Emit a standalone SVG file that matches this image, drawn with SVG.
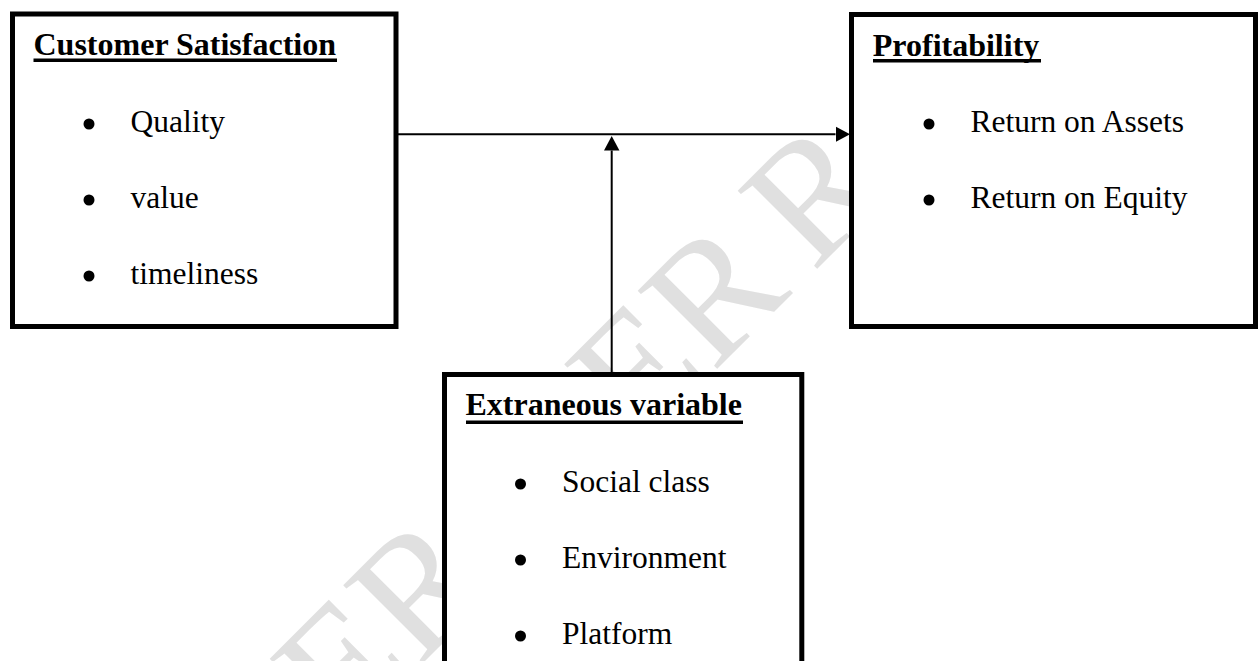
<svg xmlns="http://www.w3.org/2000/svg" width="1258" height="661" viewBox="0 0 1258 661">
<style>
  .box{fill:#ffffff;stroke:#000000;stroke-width:5}
  .title{font-family:"Liberation Serif","Times New Roman",serif;font-weight:bold;font-size:32px;fill:#000}
  .item{font-family:"Liberation Serif","Times New Roman",serif;font-size:31.5px;fill:#000}
  .ul{fill:#000}
  .dot{fill:#000}
  .conn{stroke:#000;stroke-width:2;fill:none}
  .wm{font-family:"Liberation Serif","Times New Roman",serif;font-size:170px;fill:#e0e0e0}
</style>
<defs>
  <marker id="arrow" markerUnits="userSpaceOnUse" markerWidth="15" markerHeight="16" refX="0" refY="7.75" orient="auto" viewBox="0 0 15 15.5">
    <path d="M0,0 L14.5,7.75 L0,15.5 Z" fill="#000"/>
  </marker>
</defs>
<rect x="0" y="0" width="1258" height="661" fill="#ffffff"/>
<g id="watermark">
  <text class="wm" transform="translate(345,741) rotate(-45)">ER</text>
  <text class="wm" transform="translate(639.5,446.5) rotate(-45)">ER</text>
  <text class="wm" transform="translate(813,273) rotate(-45)">R</text>
</g>
<g id="connectors">
  <line class="conn" x1="398" y1="134.3" x2="835.5" y2="134.3" marker-end="url(#arrow)"/>
  <line class="conn" x1="611.7" y1="373" x2="611.7" y2="150.5" marker-end="url(#arrow)"/>
</g>
<g id="customer-satisfaction">
  <rect class="box" x="12.5" y="14" width="383.5" height="312.5"/>
  <text class="title" x="33.5" y="55">Customer Satisfaction</text>
  <rect class="ul" x="33.5" y="58.5" width="303.5" height="3.5"/>
  <circle class="dot" cx="89" cy="124" r="5.5"/>
  <text class="item" x="130.5" y="131.5">Quality</text>
  <circle class="dot" cx="89" cy="200" r="5.5"/>
  <text class="item" x="130.5" y="207.5">value</text>
  <circle class="dot" cx="89" cy="276" r="5.5"/>
  <text class="item" x="130.5" y="283.5">timeliness</text>
</g>
<g id="profitability">
  <rect class="box" x="851.5" y="14.5" width="404" height="312"/>
  <text class="title" x="872.8" y="55.5">Profitability</text>
  <rect class="ul" x="873" y="59" width="168" height="3.5"/>
  <circle class="dot" cx="929" cy="124" r="5.5"/>
  <text class="item" x="970.5" y="131.5">Return on Assets</text>
  <circle class="dot" cx="929" cy="200" r="5.5"/>
  <text class="item" x="970.5" y="207.5">Return on Equity</text>
</g>
<g id="extraneous-variable">
  <rect class="box" x="444.5" y="374.5" width="357.3" height="300"/>
  <text class="title" x="465.5" y="415">Extraneous variable</text>
  <rect class="ul" x="466" y="420.5" width="277" height="3.5"/>
  <circle class="dot" cx="520.5" cy="484" r="5.5"/>
  <text class="item" x="562" y="491.7">Social class</text>
  <circle class="dot" cx="520.5" cy="560" r="5.5"/>
  <text class="item" x="562" y="568">Environment</text>
  <circle class="dot" cx="520.5" cy="636" r="5.5"/>
  <text class="item" x="562" y="643.5">Platform</text>
</g>
</svg>
